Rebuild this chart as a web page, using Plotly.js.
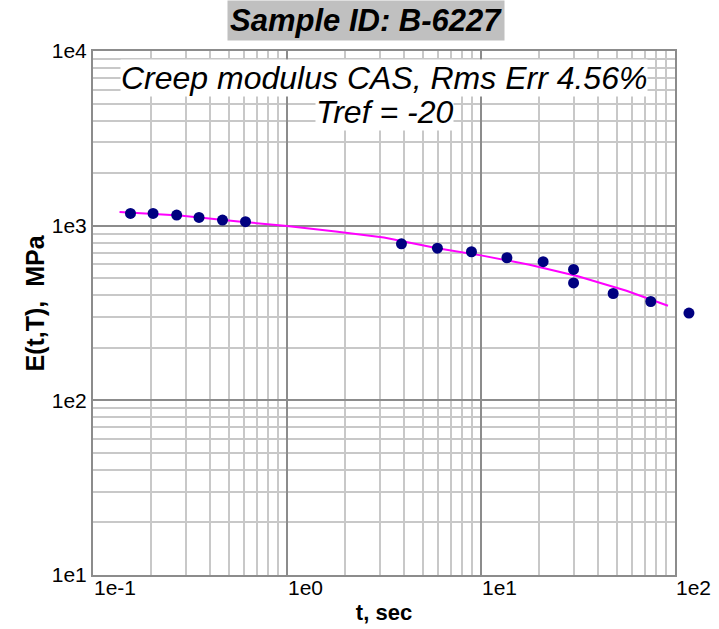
<!DOCTYPE html>
<html>
<head>
<meta charset="utf-8">
<script src="https://cdn.plot.ly/plotly-3.0.1.min.js"></script>
<style>html,body{margin:0;padding:0;background:#fff;}#chart{width:719px;height:629px;}</style>
</head>
<body>
<div id="chart"></div>
<script>
// Measured creep modulus points
const timeSec = [0.156, 0.204, 0.27, 0.352, 0.465, 0.611, 3.89, 5.96, 8.93, 13.6, 20.9, 30, 30, 48, 75, 118];
const modulusMPa = [1175, 1175, 1150, 1114, 1077, 1054, 787, 743, 709, 655, 622, 562, 470, 409, 368, 316];
// Fitted master curve
const fitTime = [0.137, 0.28, 0.562, 1.0, 1.78, 3.16, 5.96, 10, 17.8, 31.6, 56.2, 92];
const fitModulus = [1197, 1143, 1057, 995, 927, 855, 743, 676, 598, 513, 424, 348];
// Axis tick labels
const xTickVals = [0.1, 1, 10, 100];
const xTickText = ["1e-1", "1e0", "1e1", "1e2"];
const yTickVals = [10, 100, 1000, 10000];
const yTickText = ["1e1", "1e2", "1e3", "1e4"];

function minorVals(lo, hi) {
  const v = [];
  for (let d = lo; d < hi; d++) {
    for (let k = 2; k <= 9; k++) v.push(k * Math.pow(10, d));
  }
  return v;
}

const font = "Liberation Sans, Arial, sans-serif";
const majorGrid = "#8c8c8c";
const minorGrid = "#c8c8c8";

// main plot spans 3 decades; the marker layer is slightly wider so the
// last measured point (beyond 1e2) is drawn to the right of the frame
const mainFrac = 582 / 612;
const x2Max = -1 + 3 / mainFrac;

const traces = [
  {
    x: fitTime, y: fitModulus, type: "scatter", mode: "lines",
    xaxis: "x", yaxis: "y",
    line: {color: "#ff00ff", width: 2}, hoverinfo: "skip"
  },
  {
    x: timeSec, y: modulusMPa, type: "scatter", mode: "markers",
    xaxis: "x2", yaxis: "y2",
    marker: {color: "#000080", size: 11}
  }
];

const axisCommon = {
  type: "log",
  tickmode: "array",
  showgrid: true, gridcolor: majorGrid, gridwidth: 2,
  showline: true, linecolor: "#8c8c8c", linewidth: 2, mirror: true,
  ticks: "", zeroline: false,
  tickfont: {family: font, size: 21, color: "#000"}
};

const hiddenAxis = {
  type: "log", showgrid: false, showline: false, zeroline: false,
  showticklabels: false, ticks: "", fixedrange: true
};

const layout = {
  width: 719, height: 629,
  margin: {l: 93, r: 14, t: 51, b: 54},
  paper_bgcolor: "#fff", plot_bgcolor: "rgba(0,0,0,0)",
  showlegend: false,
  xaxis: Object.assign({}, axisCommon, {
    domain: [0, mainFrac], anchor: "y",
    range: [-1, 2], tickvals: xTickVals, ticktext: xTickText,
    ticklabelposition: "outside right",
    ticklabelstandoff: -7,
    minor: {tickmode: "array", tickvals: minorVals(-1, 2), showgrid: true, gridcolor: minorGrid, gridwidth: 2, ticks: ""},
    title: {text: "t, sec", font: {family: font, size: 22, color: "#000", weight: "bold"}, standoff: 6}
  }),
  yaxis: Object.assign({}, axisCommon, {
    domain: [0, 1], anchor: "x",
    range: [1, 4], tickvals: yTickVals, ticktext: yTickText,
    minor: {tickmode: "array", tickvals: minorVals(1, 4), showgrid: true, gridcolor: minorGrid, gridwidth: 2, ticks: ""}
  }),
  xaxis2: Object.assign({}, hiddenAxis, {domain: [0, 1], anchor: "y2", range: [-1, x2Max]}),
  yaxis2: Object.assign({}, hiddenAxis, {domain: [0, 1], anchor: "x2", range: [1, 4]}),
  annotations: [
    {
      text: "<b><i>Sample ID: B-6227</i></b>", xref: "paper", yref: "paper",
      x: 0.446, y: 1.058, xanchor: "center", yanchor: "middle", showarrow: false,
      bgcolor: "#c0c0c0", borderpad: 2,
      font: {family: font, size: 31, color: "#000"}
    },
    {
      text: "<i>Creep modulus CAS, Rms Err 4.56%</i>", xref: "paper", yref: "paper",
      x: 0.4755, y: 0.948, xanchor: "center", yanchor: "middle", showarrow: false,
      bgcolor: "#fff", borderpad: 0,
      font: {family: font, size: 32, color: "#000"}
    },
    {
      text: "<i>Tref = -20</i>", xref: "paper", yref: "paper",
      x: 0.4755, y: 0.883, xanchor: "center", yanchor: "middle", showarrow: false,
      bgcolor: "#fff", borderpad: 0,
      font: {family: font, size: 32, color: "#000"}
    },
    {
      text: "<b>E(t,T),  MPa</b>", xref: "paper", yref: "paper",
      x: -0.0948, y: 0.52, xanchor: "center", yanchor: "middle", showarrow: false,
      textangle: -90,
      font: {family: font, size: 25, color: "#000"}
    }
  ]
};

Plotly.newPlot("chart", traces, layout, {displayModeBar: false, staticPlot: true});
</script>
</body>
</html>
